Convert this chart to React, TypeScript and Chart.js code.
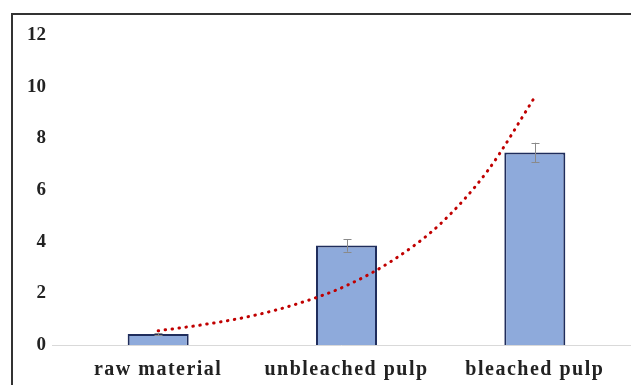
import React, { useEffect, useRef } from "react";
import { Chart, registerables } from "chart.js";

Chart.register(...registerables);

// Sample groups on the category axis
const categories = ["raw material", "unbleached pulp", "bleached pulp"];
// Mean value of each group and its error (±)
const meanValues = [0.43, 3.85, 7.45];
const errorValues = [0.04, 0.24, 0.38];
// Exponential trendline, sampled along the category positions (1 = first group)
const trendX = [1, 1.25, 1.5, 1.75, 2, 2.25, 2.5, 2.75, 3];
const trendY = [0.55, 0.8, 1.13, 1.62, 2.3, 3.3, 4.7, 6.75, 9.6];
// Value axis range
const yMin = 0;
const yMax = 12;
const yStep = 2;

const SERIF = '"Liberation Serif", "Times New Roman", serif';

// White page, dark frame along the top and left edges, light baseline at zero
const framePlugin = {
  id: "frame",
  beforeDraw(chart: any) {
    const { ctx, width, height, chartArea, scales } = chart;
    ctx.save();
    ctx.fillStyle = "#ffffff";
    ctx.fillRect(0, 0, width, height);
    ctx.strokeStyle = "#333333";
    ctx.lineWidth = 2;
    ctx.beginPath();
    ctx.moveTo(12, height);
    ctx.lineTo(12, 14);
    ctx.lineTo(width, 14);
    ctx.stroke();
    const y0 = Math.round(scales.y.getPixelForValue(0)) + 0.5;
    ctx.strokeStyle = "#d9d9d9";
    ctx.lineWidth = 1;
    ctx.beginPath();
    ctx.moveTo(chartArea.left - 12, y0);
    ctx.lineTo(width, y0);
    ctx.stroke();
    ctx.restore();
  },
};

// Error bars on top of each bar
const errorBarPlugin = {
  id: "errorBars",
  afterDatasetDraw(chart: any, args: any) {
    if (args.index !== 0) return;
    const { ctx, scales } = chart;
    ctx.save();
    ctx.strokeStyle = "#8a8a8a";
    ctx.lineWidth = 1;
    meanValues.forEach((v, i) => {
      const x = Math.round(scales.x.getPixelForValue(i)) + 0.5;
      const top = scales.y.getPixelForValue(v + errorValues[i]);
      const bottom = scales.y.getPixelForValue(v - errorValues[i]);
      ctx.beginPath();
      ctx.moveTo(x, top);
      ctx.lineTo(x, bottom);
      ctx.moveTo(x - 4, Math.round(top) + 0.5);
      ctx.lineTo(x + 4, Math.round(top) + 0.5);
      ctx.moveTo(x - 4, Math.round(bottom) + 0.5);
      ctx.lineTo(x + 4, Math.round(bottom) + 0.5);
      ctx.stroke();
    });
    ctx.restore();
  },
};

// Category labels under the plot
const categoryLabelPlugin = {
  id: "categoryLabels",
  afterDraw(chart: any) {
    const { ctx, chartArea, scales } = chart;
    ctx.save();
    ctx.font = `bold 20px ${SERIF}`;
    (ctx as any).letterSpacing = "1.5px";
    ctx.fillStyle = "#222222";
    ctx.textAlign = "center";
    ctx.textBaseline = "middle";
    categories.forEach((label, i) => {
      ctx.fillText(label, scales.x.getPixelForValue(i), chartArea.bottom + 25);
    });
    ctx.restore();
  },
};

export default function App() {
  const canvasRef = useRef<HTMLCanvasElement | null>(null);

  useEffect(() => {
    const canvas = canvasRef.current;
    if (!canvas) return;
    const chart = new Chart(canvas, {
      type: "bar",
      data: {
        labels: categories,
        datasets: [
          {
            type: "bar",
            data: meanValues,
            backgroundColor: "#8eaadb",
            borderColor: "#1f2d5c",
            borderWidth: 2,
            barPercentage: 0.324,
            categoryPercentage: 1,
            grouped: false,
            order: 1,
          },
          {
            type: "line",
            data: trendX.map((x, i) => ({ x, y: trendY[i] })),
            xAxisID: "xt",
            borderColor: "#c00000",
            borderWidth: 3,
            borderDash: [0.5, 6.5],
            borderCapStyle: "round",
            pointRadius: 0,
            cubicInterpolationMode: "monotone",
            fill: false,
            order: 0,
          } as any,
        ],
      },
      options: {
        animation: false,
        responsive: false,
        layout: { padding: { left: 12, right: 2, top: 35, bottom: 40 } },
        plugins: {
          legend: { display: false },
          tooltip: { enabled: false },
        },
        scales: {
          x: {
            display: false,
            offset: true,
          },
          xt: {
            type: "linear",
            display: false,
            offset: false,
            min: 0.5,
            max: 3.5,
          },
          y: {
            min: yMin,
            max: yMax,
            grid: { display: false },
            border: { display: false },
            ticks: {
              stepSize: yStep,
              padding: 10,
              color: "#222222",
              font: { family: SERIF, size: 19, weight: "bold" },
            },
            afterFit(scale: any) {
              scale.width = 52;
            },
          },
        },
      } as any,
      plugins: [framePlugin, errorBarPlugin, categoryLabelPlugin],
    });
    return () => chart.destroy();
  }, []);

  return (
    <div
      style={{
        position: "absolute",
        left: 0,
        top: 0,
        width: 631,
        height: 385,
        overflow: "hidden",
        background: "#fff",
      }}
    >
      <canvas ref={canvasRef} width={631} height={385} style={{ display: "block" }} />
    </div>
  );
}
